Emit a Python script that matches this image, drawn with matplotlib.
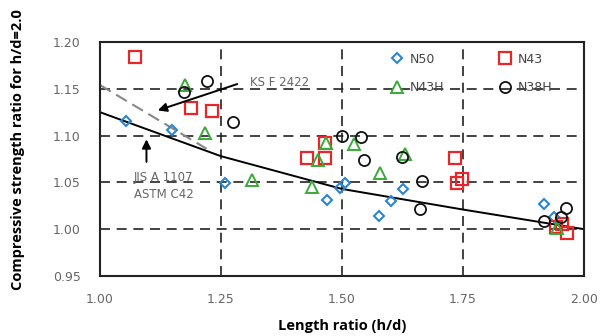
import matplotlib
matplotlib.use('Agg')
import matplotlib.pyplot as plt

# Data
n50_x = [1.053, 1.148, 1.258, 1.468, 1.496, 1.506, 1.577, 1.601, 1.627, 1.917, 1.937]
n50_y = [1.116, 1.106, 1.049, 1.031, 1.044, 1.049, 1.014, 1.030, 1.043, 1.027, 1.013]

n43_x = [1.072, 1.189, 1.231, 1.428, 1.464, 1.465, 1.733, 1.737, 1.747, 1.942, 1.954, 1.964]
n43_y = [1.184, 1.130, 1.126, 1.076, 1.076, 1.092, 1.076, 1.049, 1.054, 1.002, 1.006, 0.996]

n43h_x = [1.176, 1.217, 1.315, 1.437, 1.451, 1.466, 1.525, 1.579, 1.630, 1.945]
n43h_y = [1.154, 1.103, 1.053, 1.045, 1.074, 1.092, 1.091, 1.060, 1.080, 1.001]

n38h_x = [1.174, 1.222, 1.275, 1.499, 1.539, 1.546, 1.623, 1.661, 1.665, 1.917, 1.952, 1.962]
n38h_y = [1.147, 1.158, 1.115, 1.100, 1.099, 1.074, 1.077, 1.022, 1.052, 1.009, 1.013, 1.023]

# correction curves
jis_x = [1.00, 1.25, 1.50, 1.75, 2.00]
jis_y = [1.125, 1.078, 1.043, 1.021, 1.000]
ks_x = [1.00, 1.22]
ks_y = [1.154, 1.086]

x_ticks = [1.00, 1.25, 1.50, 1.75, 2.00]
y_ticks = [0.95, 1.00, 1.05, 1.10, 1.15, 1.20]

fig = plt.figure(figsize=(6.13, 3.36), dpi=100)
ax = fig.add_axes([100 / 613, 1 - 276 / 336, 484 / 613, 234 / 336])

ax.set_xlim(1.0, 2.0)
ax.set_ylim(0.95, 1.20)

# dashed grid only inside the box
for xv in x_ticks[1:-1]:
    ax.axvline(xv, color='#222222', lw=1.2, ls=(0, (6, 4)), zorder=1)
for yv in y_ticks[1:-1]:
    ax.axhline(yv, color='#222222', lw=1.2, ls=(0, (6, 4)), zorder=1)

ax.plot(ks_x, ks_y, color='#888888', lw=1.5, ls=(0, (6, 3)), zorder=2)
ax.plot(jis_x, jis_y, color='black', lw=1.4, zorder=2)

mk = dict(ls='none', markerfacecolor='none', zorder=3)
h1, = ax.plot(n50_x, n50_y, marker='D', ms=5.5, mec='#2a86d4', mew=1.5, label='N50', **mk)
h2, = ax.plot(n43_x, n43_y, marker='s', ms=8.5, mec='#e8262a', mew=1.6, label='N43', **mk)
h3, = ax.plot(n43h_x, n43h_y, marker='^', ms=9, mec='#3aaa3a', mew=1.4, label='N43H', **mk)
h4, = ax.plot(n38h_x, n38h_y, marker='o', ms=8, mec='#111111', mew=1.3, label='N38H', **mk)

ax.legend(handles=[h1, h3, h2, h4], ncol=2, loc='upper left',
          bbox_to_anchor=(0.6007, 0.955), frameon=False, borderaxespad=0,
          borderpad=0, handlelength=1.0, handletextpad=0.5,
          labelspacing=1.25, columnspacing=4.4,
          prop={'family': 'DejaVu Sans', 'size': 9}, labelcolor='#444444')

# annotations
ax.annotate('', xy=(1.114, 1.126), xytext=(1.289, 1.156),
            arrowprops=dict(arrowstyle='-|>', color='black', lw=1.4, mutation_scale=13))
ax.text(1.31, 1.157, 'KS F 2422', fontsize=8.5, color='#666666', va='center', ha='left')
ax.annotate('', xy=(1.096, 1.099), xytext=(1.096, 1.069),
            arrowprops=dict(arrowstyle='-|>', color='black', lw=1.4, mutation_scale=13))
ax.text(1.131, 1.0555, 'JIS A 1107', fontsize=8.5, color='#666666', va='center', ha='center')
ax.text(1.131, 1.0375, 'ASTM C42', fontsize=8.5, color='#666666', va='center', ha='center')

ax.set_xticks(x_ticks)
ax.set_yticks(y_ticks)
ax.set_xticklabels(['%.2f' % v for v in x_ticks])
ax.set_yticklabels(['%.2f' % v for v in y_ticks])
ax.tick_params(length=0, labelsize=9, labelcolor='#666666')
ax.tick_params(axis='x', pad=12)
ax.tick_params(axis='y', pad=14)
for s in ax.spines.values():
    s.set_linewidth(1.5)
    s.set_color('#222222')

ax.set_xlabel('Length ratio (h/d)', fontsize=10.5, fontweight='bold', family='Open Sans',
              va='center')
ax.set_ylabel('Compressive strength ratio for h/d=2.0', fontsize=10.5, fontweight='bold',
              family='Open Sans', va='center')
ax.xaxis.set_label_coords(0.5, -0.214)
ax.yaxis.set_label_coords(-0.169, 0.54)

fig.savefig('out.png', dpi=100)
